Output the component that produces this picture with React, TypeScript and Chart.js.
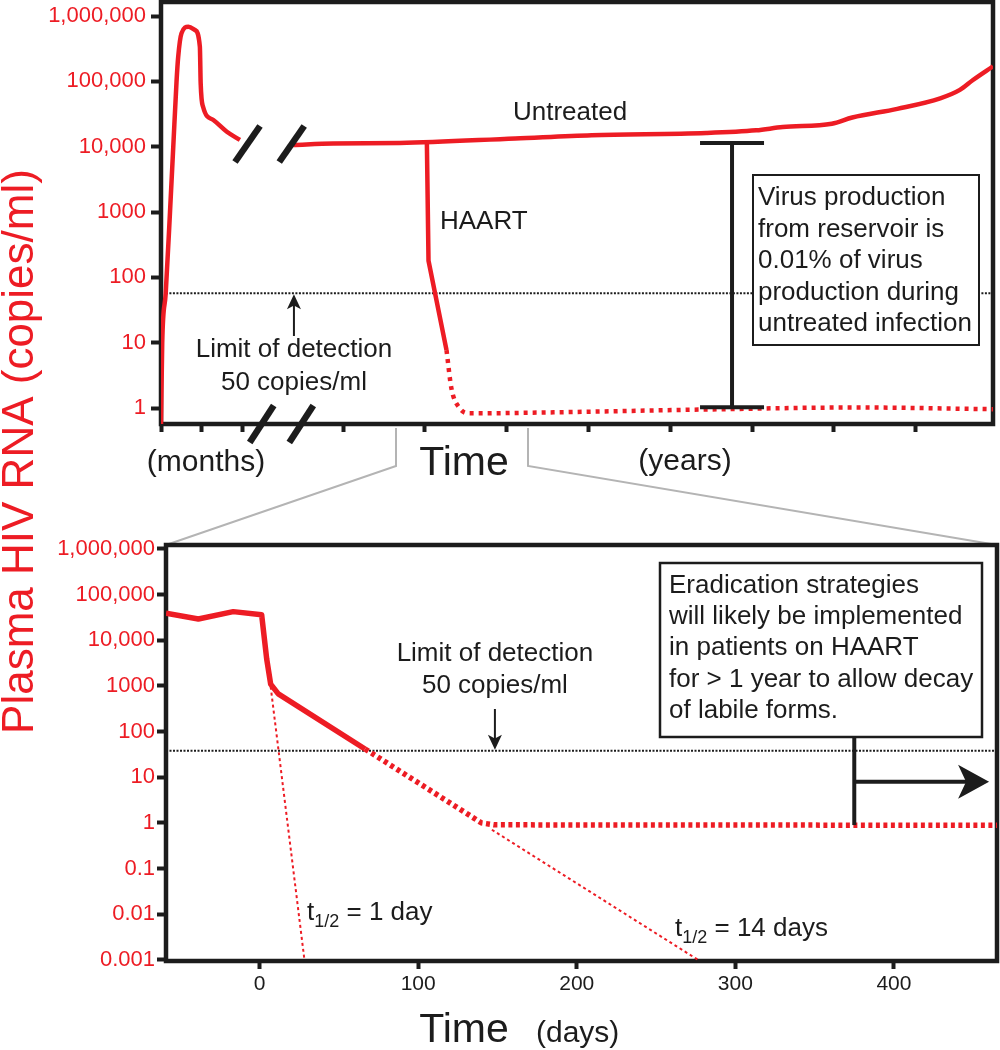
import React, { useEffect, useRef } from 'react';
import { Chart, registerables } from 'chart.js';

Chart.register(...registerables);

const RED = '#ed1c24';
const INK = '#1c1c1c';
const GREY = '#b4b4b4';
const FONT = '"Liberation Sans", Arial, Helvetica, sans-serif';

// ---------- Upper panel: natural course, broken time axis (months | years) ----------
const TOP_Y_TICKS = [1, 10, 100, 1000, 10000, 100000, 1000000];
const TOP_Y_LABELS = ['1', '10', '100', '1000', '10,000', '100,000', '1,000,000'];
const TOP_Y_MIN = 0.57;
const TOP_Y_MAX = 1.64e6;
const TOP_T_MAX = 20.34; // time position units along the broken axis
const TOP_T_TICKS = [0, 1, 2, 4.45, 6.45, 8.45, 10.45, 12.45, 14.45, 16.45, 18.45];

const UNTREATED_T = [0, 0.03, 0.115, 0.22, 0.3, 0.38, 0.42, 0.5, 0.67, 0.83, 0.95, 0.97, 1.03, 1.28, 1.61, 1.93, 2.6, 3.23, 4.21, 5.84, 8.66, 10.53, 13.33, 14.55, 15.2, 16.4, 16.9, 18.0, 19.05, 19.53, 19.85, 20.34];
const UNTREATED_V = [0.57, 10, 57, 1000, 10000, 100000, 236000, 543000, 687000, 611000, 340000, 93000, 40500, 25600, 16900, 12700, null, 10600, 11200, 11400, 13400, 15000, 16200, 17800, 20000, 22500, 28000, 38000, 55000, 74000, 105000, 170000];
const HAART_T = [6.5, 6.54, 6.98];
const HAART_V = [11400, 180, 7.7];
const HAART_BLD_T = [6.98, 7.1, 7.3, 7.55, 9.6, 13.3, 17.0, 20.34];
const HAART_BLD_V = [7.7, 2.0, 1.0, 0.83, 0.86, 0.95, 1.02, 0.96];
const TOP_LOD = 57;
const TOP_LOD_T = [0.12, 20.34];
const TOP_LOD_ARROW_T = 3.25;
const TOP_BREAK_CURVE_T = [2.115, 3.196];
const TOP_BREAK_LEVEL = 11000;
const TOP_BREAK_AXIS_T = [2.462, 3.43];
const RESERVOIR_T = 13.96;
const RESERVOIR_RANGE = [1.03, 11400];

// ---------- Lower panel: decay on HAART (days) ----------
const BOT_Y_TICKS = [0.001, 0.01, 0.1, 1, 10, 100, 1000, 10000, 100000, 1000000];
const BOT_Y_LABELS = ['0.001', '0.01', '0.1', '1', '10', '100', '1000', '10,000', '100,000', '1,000,000'];
const BOT_Y_MIN = 0.00095;
const BOT_Y_MAX = 1.22e6;
const DAY_MIN = -59;
const DAY_MAX = 465;
const DAY_TICKS = [0, 100, 200, 300, 400];
const MEASURED_DAYS = [-59, -38.6, -16.6, 1.3, 4.5, 7.0, 11.8, 66.5];
const MEASURED_VALUES = [39000, 29300, 42400, 36400, 3900, 1100, 670, 41.7];
const BELOW_LOD_DAYS = [66.5, 140, 148, 465];
const BELOW_LOD_VALUES = [41.7, 1.0, 0.91, 0.89];
const FAST_DECAY_DAYS = [7.0, 28.3];
const FAST_DECAY_VALUES = [960, 0.001];
const SLOW_DECAY_DAYS = [146.5, 276.6];
const SLOW_DECAY_VALUES = [0.71, 0.001];
const BOT_LOD = 38;
const BOT_LOD_ARROW_DAY = 148.4;
const ERAD_DAY = 375;
const ERAD_END_DAY = 460;
const ERAD_ARROW_LEVEL = 8;
const ERAD_FLOOR = 0.9;

const pts = (xs: number[], ys: (number | null)[]) => xs.map((x, i) => ({ x, y: ys[i] }));

function seg(ctx: any, x1: number, y1: number, x2: number, y2: number) {
  ctx.beginPath();
  ctx.moveTo(x1, y1);
  ctx.lineTo(x2, y2);
  ctx.stroke();
}

function txt(ctx: any, s: string, x: number, y: number, size: number, color: string, align: string = 'left') {
  ctx.font = `${size}px ${FONT}`;
  ctx.fillStyle = color;
  ctx.textAlign = align;
  ctx.textBaseline = 'alphabetic';
  ctx.fillText(s, x, y);
}

function headTri(ctx: any, tipX: number, tipY: number, dir: 'up' | 'down', len: number, half: number) {
  const s = dir === 'up' ? 1 : -1;
  ctx.beginPath();
  ctx.moveTo(tipX, tipY);
  ctx.lineTo(tipX - half, tipY + s * len);
  ctx.lineTo(tipX, tipY + s * len * 0.75);
  ctx.lineTo(tipX + half, tipY + s * len);
  ctx.closePath();
  ctx.fill();
}

function halfLife(ctx: any, x: number, base: number, rest: string) {
  txt(ctx, 't', x, base, 26, INK);
  ctx.font = `26px ${FONT}`;
  const w1 = ctx.measureText('t').width;
  txt(ctx, '1/2', x + w1, base + 7, 18, INK);
  ctx.font = `18px ${FONT}`;
  const w2 = ctx.measureText('1/2').width;
  txt(ctx, rest, x + w1 + w2, base, 26, INK);
}

function frame(chart: any) {
  const { ctx, chartArea: a } = chart;
  ctx.save();
  ctx.strokeStyle = INK;
  ctx.lineWidth = 4.5;
  ctx.strokeRect(a.left, a.top, a.right - a.left, a.bottom - a.top);
  ctx.restore();
}

const topPanelPlugin = {
  id: 'topPanel',
  beforeDatasetsDraw(chart: any) {
    frame(chart);
  },
  afterDatasetsDraw(chart: any) {
    const { ctx, chartArea: a } = chart;
    const xs = chart.scales.x;
    const ys = chart.scales.y;
    ctx.save();
    ctx.strokeStyle = INK;
    ctx.fillStyle = INK;
    ctx.lineCap = 'butt';

    // axis break marks
    ctx.lineWidth = 6.5;
    const by = ys.getPixelForValue(TOP_BREAK_LEVEL);
    TOP_BREAK_CURVE_T.forEach((t) => {
      const cx = xs.getPixelForValue(t);
      seg(ctx, cx - 12.5, by + 18, cx + 12.5, by - 18);
    });
    TOP_BREAK_AXIS_T.forEach((t) => {
      const cx = xs.getPixelForValue(t);
      seg(ctx, cx - 12, a.bottom + 18.5, cx + 12, a.bottom - 18.5);
    });

    // reservoir I-beam
    ctx.lineWidth = 4;
    const ix = xs.getPixelForValue(RESERVOIR_T);
    const iy1 = ys.getPixelForValue(RESERVOIR_RANGE[1]);
    const iy2 = ys.getPixelForValue(RESERVOIR_RANGE[0]);
    seg(ctx, ix, iy1, ix, iy2);
    seg(ctx, ix - 32, iy1, ix + 32, iy1);
    seg(ctx, ix - 32, iy2, ix + 32, iy2);

    // limit of detection arrow + label
    const lx = xs.getPixelForValue(TOP_LOD_ARROW_T);
    const ly = ys.getPixelForValue(TOP_LOD);
    ctx.lineWidth = 2;
    seg(ctx, lx, ly + 10, lx, 336);
    headTri(ctx, lx, ly + 1, 'up', 15, 7);
    txt(ctx, 'Limit of detection', lx, 357, 26, INK, 'center');
    txt(ctx, '50 copies/ml', lx, 390, 26, INK, 'center');

    // series labels
    txt(ctx, 'Untreated', 513, 120, 26, INK);
    txt(ctx, 'HAART', 440, 229, 26, INK);

    // text box
    ctx.fillStyle = '#ffffff';
    ctx.fillRect(753, 175, 226, 170);
    ctx.lineWidth = 2;
    ctx.strokeRect(753, 175, 226, 170);
    const lines = ['Virus production', 'from reservoir is', '0.01% of virus', 'production during', 'untreated infection'];
    lines.forEach((s, i) => txt(ctx, s, 758, 205 + i * 31.5, 26, INK));

    // axis words
    txt(ctx, '(months)', 206, 471, 30, INK, 'center');
    txt(ctx, 'Time', 464, 475, 41, INK, 'center');
    txt(ctx, '(years)', 685, 470, 30, INK, 'center');
    ctx.restore();
  },
};

const bottomPanelPlugin = {
  id: 'bottomPanel',
  beforeDraw(chart: any) {
    const { ctx } = chart;
    ctx.save();
    ctx.strokeStyle = GREY;
    ctx.lineWidth = 2;
    ctx.beginPath();
    ctx.moveTo(396, 428);
    ctx.lineTo(396, 466);
    ctx.lineTo(166, 545);
    ctx.stroke();
    ctx.beginPath();
    ctx.moveTo(528, 428);
    ctx.lineTo(528, 466);
    ctx.lineTo(997, 545);
    ctx.stroke();
    ctx.restore();
  },
  beforeDatasetsDraw(chart: any) {
    frame(chart);
  },
  afterDatasetsDraw(chart: any) {
    const { ctx } = chart;
    const xs = chart.scales.x;
    const ys = chart.scales.y;
    ctx.save();
    ctx.strokeStyle = INK;
    ctx.fillStyle = INK;

    // limit of detection label + arrow
    const lx = xs.getPixelForValue(BOT_LOD_ARROW_DAY);
    const ly = ys.getPixelForValue(BOT_LOD);
    txt(ctx, 'Limit of detection', lx, 661, 26, INK, 'center');
    txt(ctx, '50 copies/ml', lx, 693, 26, INK, 'center');
    ctx.lineWidth = 2;
    seg(ctx, lx, 709, lx, ly - 10);
    headTri(ctx, lx, ly - 1, 'down', 15, 7);

    // half-life labels
    halfLife(ctx, 307, 920, ' = 1 day');
    halfLife(ctx, 675, 936, ' = 14 days');

    // eradication box
    ctx.fillStyle = '#ffffff';
    ctx.fillRect(660, 563, 322, 174);
    ctx.strokeStyle = INK;
    ctx.lineWidth = 2.5;
    ctx.strokeRect(660, 563, 322, 174);
    const lines = ['Eradication strategies', 'will likely be implemented', 'in patients on HAART', 'for > 1 year to allow decay', 'of labile forms.'];
    lines.forEach((s, i) => txt(ctx, s, 669, 593 + i * 31.2, 26, INK));

    // pointer + arrow
    const ex = xs.getPixelForValue(ERAD_DAY);
    const ey = ys.getPixelForValue(ERAD_FLOOR);
    const ay = ys.getPixelForValue(ERAD_ARROW_LEVEL);
    const tipX = xs.getPixelForValue(ERAD_END_DAY);
    ctx.lineWidth = 4;
    seg(ctx, ex, 737, ex, ey);
    seg(ctx, ex, ay, tipX - 20, ay);
    ctx.fillStyle = INK;
    ctx.beginPath();
    ctx.moveTo(tipX, ay);
    ctx.lineTo(tipX - 31, ay - 17);
    ctx.lineTo(tipX - 23, ay);
    ctx.lineTo(tipX - 31, ay + 17);
    ctx.closePath();
    ctx.fill();

    // axis words
    txt(ctx, 'Time', 464, 1042, 41, INK, 'center');
    txt(ctx, '(days)', 536, 1042, 30, INK, 'left');

    // shared y title
    ctx.save();
    ctx.translate(33, 451.5);
    ctx.rotate(-Math.PI / 2);
    txt(ctx, 'Plasma HIV RNA (copies/ml)', 0, 0, 44, RED, 'center');
    ctx.restore();
    ctx.restore();
  },
};

function yAxis(ticks: number[], labels: string[], min: number, max: number, width: number, tickLen: number, pad: number) {
  return {
    type: 'logarithmic',
    min,
    max,
    afterBuildTicks: (s: any) => {
      s.ticks = ticks.map((v) => ({ value: v }));
    },
    afterFit: (s: any) => {
      s.width = width;
      s.paddingTop = 0;
      s.paddingBottom = 0;
    },
    ticks: {
      autoSkip: false,
      color: RED,
      padding: pad,
      font: { family: FONT, size: 22 },
      callback: (v: number) => {
        const i = ticks.findIndex((t) => Math.abs(t - v) / t < 1e-6);
        return i >= 0 ? labels[i] : '';
      },
    },
    grid: { drawOnChartArea: false, drawTicks: true, tickLength: tickLen, tickWidth: 4, tickColor: INK },
    border: { display: false },
  };
}

function topConfig(): any {
  return {
    type: 'line',
    data: {
      datasets: [
        { label: 'Limit of detection', data: pts(TOP_LOD_T, [TOP_LOD, TOP_LOD]), borderColor: INK, borderWidth: 2, borderDash: [2, 1.5], pointRadius: 0, order: 5 },
        { label: 'Untreated', data: pts(UNTREATED_T, UNTREATED_V), borderColor: RED, borderWidth: 4.5, pointRadius: 0, cubicInterpolationMode: 'monotone', spanGaps: false, borderJoinStyle: 'round', order: 1 },
        { label: 'HAART', data: pts(HAART_T, HAART_V), borderColor: RED, borderWidth: 4.5, pointRadius: 0, tension: 0, borderJoinStyle: 'round', order: 1 },
        { label: 'HAART below detection', data: pts(HAART_BLD_T, HAART_BLD_V), borderColor: RED, borderWidth: 4.5, borderDash: [4, 5], pointRadius: 0, cubicInterpolationMode: 'monotone', order: 1 },
      ],
    },
    options: {
      responsive: false,
      maintainAspectRatio: false,
      devicePixelRatio: 1,
      animation: false,
      events: [],
      layout: { padding: { left: 0, right: 7, top: 2, bottom: 570 } },
      plugins: { legend: { display: false }, tooltip: { enabled: false }, title: { display: false } },
      scales: {
        x: {
          type: 'linear',
          min: 0,
          max: TOP_T_MAX,
          afterBuildTicks: (s: any) => {
            s.ticks = TOP_T_TICKS.map((v) => ({ value: v }));
          },
          afterFit: (s: any) => {
            s.height = 56;
            s.paddingLeft = 0;
            s.paddingRight = 0;
          },
          ticks: { autoSkip: false, maxRotation: 0, callback: () => '' },
          grid: { drawOnChartArea: false, drawTicks: true, tickLength: 8, tickWidth: 4, tickColor: INK },
          border: { display: false },
        },
        y: yAxis(TOP_Y_TICKS, TOP_Y_LABELS, TOP_Y_MIN, TOP_Y_MAX, 161, 10, 5),
      },
    },
    plugins: [topPanelPlugin],
  };
}

function bottomConfig(): any {
  return {
    type: 'line',
    data: {
      datasets: [
        { label: 'Limit of detection', data: pts([DAY_MIN, DAY_MAX], [BOT_LOD, BOT_LOD]), borderColor: INK, borderWidth: 2, borderDash: [2, 1.5], pointRadius: 0, order: 6 },
        { label: 't1/2 = 1 day', data: pts(FAST_DECAY_DAYS, FAST_DECAY_VALUES), borderColor: RED, borderWidth: 2, borderDash: [3, 3], pointRadius: 0, order: 4 },
        { label: 't1/2 = 14 days', data: pts(SLOW_DECAY_DAYS, SLOW_DECAY_VALUES), borderColor: RED, borderWidth: 2, borderDash: [3, 3], pointRadius: 0, order: 4 },
        { label: 'Plasma HIV RNA', data: pts(MEASURED_DAYS, MEASURED_VALUES), borderColor: RED, borderWidth: 5.5, pointRadius: 0, tension: 0, borderJoinStyle: 'round', order: 1 },
        { label: 'Below detection', data: pts(BELOW_LOD_DAYS, BELOW_LOD_VALUES), borderColor: RED, borderWidth: 5.5, borderDash: [4, 3.5], pointRadius: 0, tension: 0, order: 1 },
      ],
    },
    options: {
      responsive: false,
      maintainAspectRatio: false,
      devicePixelRatio: 1,
      animation: false,
      events: [],
      layout: { padding: { left: 0, right: 3, top: 545, bottom: 0 } },
      plugins: { legend: { display: false }, tooltip: { enabled: false }, title: { display: false } },
      scales: {
        x: {
          type: 'linear',
          min: DAY_MIN,
          max: DAY_MAX,
          afterBuildTicks: (s: any) => {
            s.ticks = DAY_TICKS.map((v) => ({ value: v }));
          },
          afterFit: (s: any) => {
            s.height = 89;
            s.paddingLeft = 0;
            s.paddingRight = 0;
          },
          ticks: { autoSkip: false, maxRotation: 0, color: INK, padding: 3, font: { family: FONT, size: 21 }, callback: (v: number) => String(v) },
          grid: { drawOnChartArea: false, drawTicks: true, tickLength: 8, tickWidth: 4, tickColor: INK },
          border: { display: false },
        },
        y: yAxis(BOT_Y_TICKS, BOT_Y_LABELS, BOT_Y_MIN, BOT_Y_MAX, 166, 9, 2),
      },
    },
    plugins: [bottomPanelPlugin],
  };
}

export default function App() {
  const topRef = useRef<HTMLCanvasElement>(null);
  const botRef = useRef<HTMLCanvasElement>(null);

  useEffect(() => {
    const top = new Chart(topRef.current as HTMLCanvasElement, topConfig());
    const bottom = new Chart(botRef.current as HTMLCanvasElement, bottomConfig());
    return () => {
      top.destroy();
      bottom.destroy();
    };
  }, []);

  const canvasStyle: any = { position: 'absolute', left: 0, top: 0, width: '1000px', height: '1050px' };
  return (
    <div style={{ position: 'absolute', left: 0, top: 0, width: 1000, height: 1050, background: '#ffffff' }}>
      <canvas ref={topRef} width={1000} height={1050} style={canvasStyle} />
      <canvas ref={botRef} width={1000} height={1050} style={canvasStyle} />
    </div>
  );
}
